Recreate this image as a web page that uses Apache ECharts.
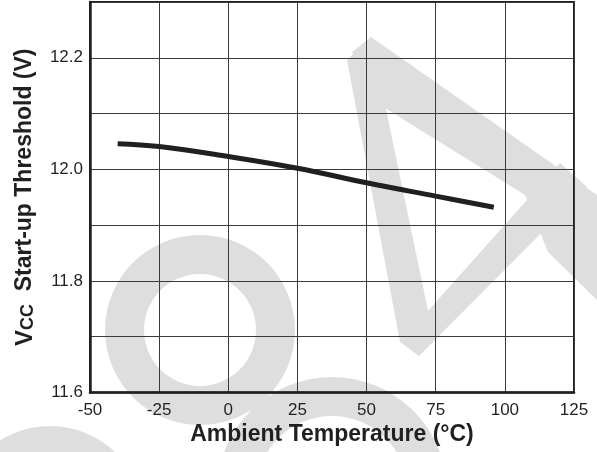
<!DOCTYPE html>
<html>
<head>
<meta charset="utf-8">
<script src="https://cdn.jsdelivr.net/npm/echarts@6/dist/echarts.min.js"></script>
<style>
html,body{margin:0;padding:0;background:#fff;}
#chart{width:597px;height:452px;}
</style>
</head>
<body>
<div id="chart"></div>
<script>
// ---- data ----
const temperatures = [-40, -25, 0, 25, 50, 75, 96];
const thresholdV = [12.046, 12.041, 12.023, 12.002, 11.976, 11.952, 11.932];
const xTicks = [-50, -25, 0, 25, 50, 75, 100, 125];
const yLabelValues = [11.6, 11.8, 12.0, 12.2];
const xTitle = 'Ambient Temperature (°C)';
const yTitleMain = 'Start-up Threshold (V)';

const chart = echarts.init(document.getElementById('chart'), null, {renderer: 'canvas'});
const FONT = '"Liberation Sans", Arial, sans-serif';
const INK = '#231f20';
const WM = '#dedede';

const seriesData = temperatures.map((t, i) => [t, thresholdV[i]]);

// watermark (decorative)
const watermark = [
  {type: 'ring', shape: {cx: 200, cy: 330, r: 95, r0: 56}},
  {type: 'ring', shape: {cx: 332, cy: 492, r: 115, r0: 76}},
  {type: 'ring', shape: {cx: 50, cy: 520, r: 94, r0: 55}},
  {type: 'polygon', shape: {points: [[347,60],[371,37],[432,330],[419,356],[400,342]]}},
  {type: 'polygon', shape: {points: [[352,52],[371,37],[597,195],[597,300],[548,252],[525,195],[385,108]]}},
  {type: 'polygon', shape: {points: [[402,340],[560,163],[587,187],[419,356]]}}
].map(e => Object.assign(e, {z: -100, silent: true, style: {fill: WM}}));

const option = {
  backgroundColor: '#ffffff',
  animation: false,
  graphic: watermark,
  grid: {
    left: 90, right: 23, top: 2, bottom: 59.5,
    show: true, borderColor: '#231f20', borderWidth: 2, backgroundColor: 'transparent'
  },
  xAxis: {
    type: 'value', min: -50, max: 125, interval: 25,
    axisLine: {show: true, onZero: false, lineStyle: {color: INK, width: 2.5}},
    axisTick: {show: false},
    splitLine: {show: true, lineStyle: {color: '#3a3a3a', width: 1}},
    axisLabel: {
      color: INK, fontFamily: FONT, fontSize: 17, margin: 9,
      formatter: v => xTicks.includes(v) ? String(v) : ''
    },
    name: xTitle, nameLocation: 'middle', nameGap: 31,
    nameTextStyle: {color: INK, fontFamily: FONT, fontSize: 23, fontWeight: 'bold'}
  },
  yAxis: {
    type: 'value', min: 11.6, max: 12.3, interval: 0.1,
    axisLine: {show: true, onZero: false, lineStyle: {color: INK, width: 2.5}},
    axisTick: {show: false},
    splitLine: {show: true, lineStyle: {color: '#3a3a3a', width: 1}},
    axisLabel: {
      color: INK, fontFamily: FONT, fontSize: 17, margin: 7,
      formatter: v => {
        const r = Math.round(v * 10) / 10;
        return yLabelValues.some(y => Math.abs(y - r) < 1e-6) ? r.toFixed(1) : '';
      }
    },
    name: '{v|V}{sub|CC}  ' + yTitleMain, nameLocation: 'middle', nameGap: 53, nameRotate: 90,
    nameTextStyle: {
      color: INK, fontFamily: FONT, fontSize: 23, fontWeight: 'bold',
      rich: {
        v: {fontFamily: FONT, fontSize: 24, fontWeight: 'bold', color: INK},
        sub: {fontFamily: FONT, fontSize: 18, fontWeight: 'bold', color: INK, verticalAlign: 'bottom'}
      }
    }
  },
  series: [{
    type: 'line', data: seriesData, smooth: 0.4, showSymbol: false, symbol: 'none',
    lineStyle: {color: INK, width: 5}, z: 5
  }]
};
chart.setOption(option);
</script>
</body>
</html>
